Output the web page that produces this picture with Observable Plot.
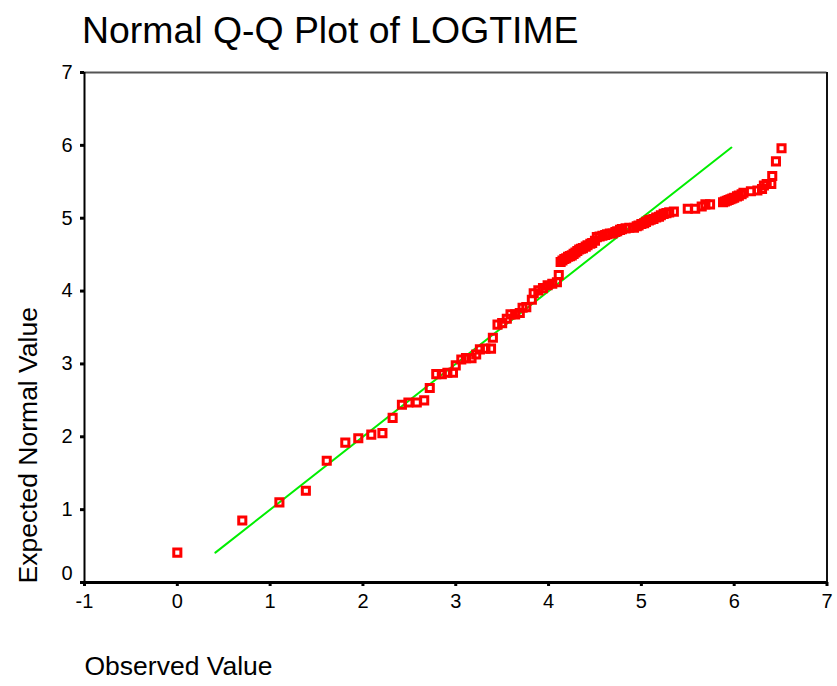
<!DOCTYPE html>
<html>
<head>
<meta charset="utf-8">
<script src="https://cdn.jsdelivr.net/npm/d3@7"></script>
<script src="https://cdn.jsdelivr.net/npm/@observablehq/plot@0.6"></script>
<style>
  html, body { margin: 0; padding: 0; background: #fff; }
  #title { font-family: "Liberation Sans", Arial, sans-serif; font-size: 37.4px; line-height: 60px; height: 60px; padding-left: 82px; color: #000; white-space: nowrap; }
  #chart svg { display: block; }
</style>
</head>
<body>
<div id="title">Normal Q-Q Plot of LOGTIME</div>
<div id="chart"></div>
<script>
// Observed (LOGTIME) values and their expected normal values
const observed = [
  0.00, 0.70, 1.10, 1.385, 1.61, 1.81, 1.95, 2.09, 2.21, 2.32,
  2.42, 2.49, 2.58, 2.66, 2.72, 2.79, 2.85, 2.91, 2.97, 3.00,
  3.06, 3.11, 3.17, 3.22, 3.26, 3.32, 3.38, 3.40, 3.45, 3.50,
  3.55, 3.59, 3.64, 3.69, 3.72, 3.76, 3.82, 3.84, 3.89, 3.94,
  3.99, 4.04, 4.09, 4.11,
  4.13, 4.15, 4.17, 4.19, 4.21, 4.23, 4.25, 4.27, 4.29, 4.31,
  4.33, 4.35, 4.37, 4.40, 4.42, 4.45, 4.47, 4.50, 4.52, 4.55,
  4.58, 4.61, 4.63, 4.66, 4.69, 4.72, 4.74, 4.77, 4.79, 4.83,
  4.87, 4.92, 4.95, 4.97, 5.00, 5.03, 5.05, 5.08, 5.10, 5.13,
  5.16, 5.19, 5.21, 5.24, 5.27, 5.30, 5.35,
  5.50, 5.58, 5.65, 5.69, 5.74,
  5.88, 5.90, 5.92, 5.94, 5.96, 5.98, 6.00, 6.03, 6.05, 6.08, 6.10,
  6.18, 6.25, 6.30, 6.32, 6.35, 6.40, 6.41, 6.45, 6.51
];
const expected = [
  0.41, 0.85, 1.10, 1.26, 1.67, 1.92, 1.98, 2.03, 2.05, 2.26,
  2.44, 2.47, 2.47, 2.50, 2.67, 2.86, 2.86, 2.88, 2.88, 2.98,
  3.06, 3.08, 3.08, 3.13, 3.20, 3.21, 3.21, 3.36, 3.54, 3.56,
  3.62, 3.68, 3.68, 3.70, 3.77, 3.78, 3.88, 3.97, 4.01, 4.04,
  4.08, 4.10, 4.12, 4.22,
  4.40, 4.42, 4.44, 4.45, 4.47, 4.48, 4.49, 4.51, 4.53, 4.55,
  4.57, 4.58, 4.59, 4.61, 4.63, 4.65, 4.66, 4.69, 4.74, 4.75,
  4.76, 4.77, 4.78, 4.79, 4.79, 4.81, 4.82, 4.84, 4.85, 4.86,
  4.87, 4.87, 4.89, 4.90, 4.92, 4.93, 4.95, 4.97, 4.98, 4.99,
  5.01, 5.02, 5.04, 5.06, 5.07, 5.08, 5.09,
  5.13, 5.13, 5.16, 5.19, 5.19,
  5.22, 5.23, 5.24, 5.25, 5.26, 5.27, 5.28, 5.30, 5.31, 5.33, 5.35,
  5.37, 5.38, 5.40, 5.45, 5.47, 5.47, 5.58, 5.78, 5.96
];
// Reference line endpoints
const lineX = [0.41, 5.97];
const lineY = [0.41, 5.97];
// Tick labels
const xTicks = [-1, 0, 1, 2, 3, 4, 5, 6, 7];
const yTicks = [0, 1, 2, 3, 4, 5, 6, 7];
const xLabel = "Observed Value";
const yLabel = "Expected Normal Value";

const points = observed.map((x, i) => ({x, y: expected[i]}));
const refLine = lineX.map((x, i) => ({x, y: lineY[i]}));

const chart = Plot.plot({
  width: 837,
  height: 626,
  marginTop: 12,
  marginBottom: 104,
  marginLeft: 84,
  marginRight: 10.5,
  style: {fontFamily: "'Liberation Sans', Arial, sans-serif", fontSize: "20px", background: "white", color: "black"},
  x: {domain: [-1, 7]},
  y: {domain: [0, 7]},
  marks: [
    Plot.line(refLine, {x: "x", y: "y", stroke: "#00ee00", strokeWidth: 2}),
    Plot.dot(points, {x: "x", y: "y", symbol: "square", r: 4, stroke: "#ff0000", strokeWidth: 3, fill: "none"}),
    Plot.ruleY([7], {stroke: "#555", strokeWidth: 2}),
    Plot.ruleX([7], {stroke: "#111", strokeWidth: 2}),
    Plot.ruleX([-1], {stroke: "#000", strokeWidth: 2}),
    Plot.ruleY([0], {stroke: "#000", strokeWidth: 3}),
    Plot.axisX(xTicks, {tickSize: 4, strokeWidth: 3, tickPadding: 7, fontSize: 20, tickFormat: d => String(d), label: null}),
    Plot.axisY(yTicks, {tickSize: 4, strokeWidth: 3, tickPadding: 8, fontSize: 20, tickFormat: d => d === 0 ? "" : String(d), label: null}),
    Plot.text(yTicks.filter(d => d === 0), {y: d => d, frameAnchor: "left", text: d => String(d), dx: -12, dy: -9, textAnchor: "end", fontSize: 20}),
    Plot.text([yLabel], {frameAnchor: "bottom-left", text: d => d, rotate: -90, textAnchor: "start", lineAnchor: "middle", dx: -55.5, dy: 1, fontSize: 26.5}),
    Plot.text([xLabel], {frameAnchor: "bottom-left", text: d => d, textAnchor: "start", lineAnchor: "middle", dx: 0, dy: 84.5, fontSize: 26.5})
  ]
});
document.getElementById("chart").appendChild(chart);
</script>
</body>
</html>
